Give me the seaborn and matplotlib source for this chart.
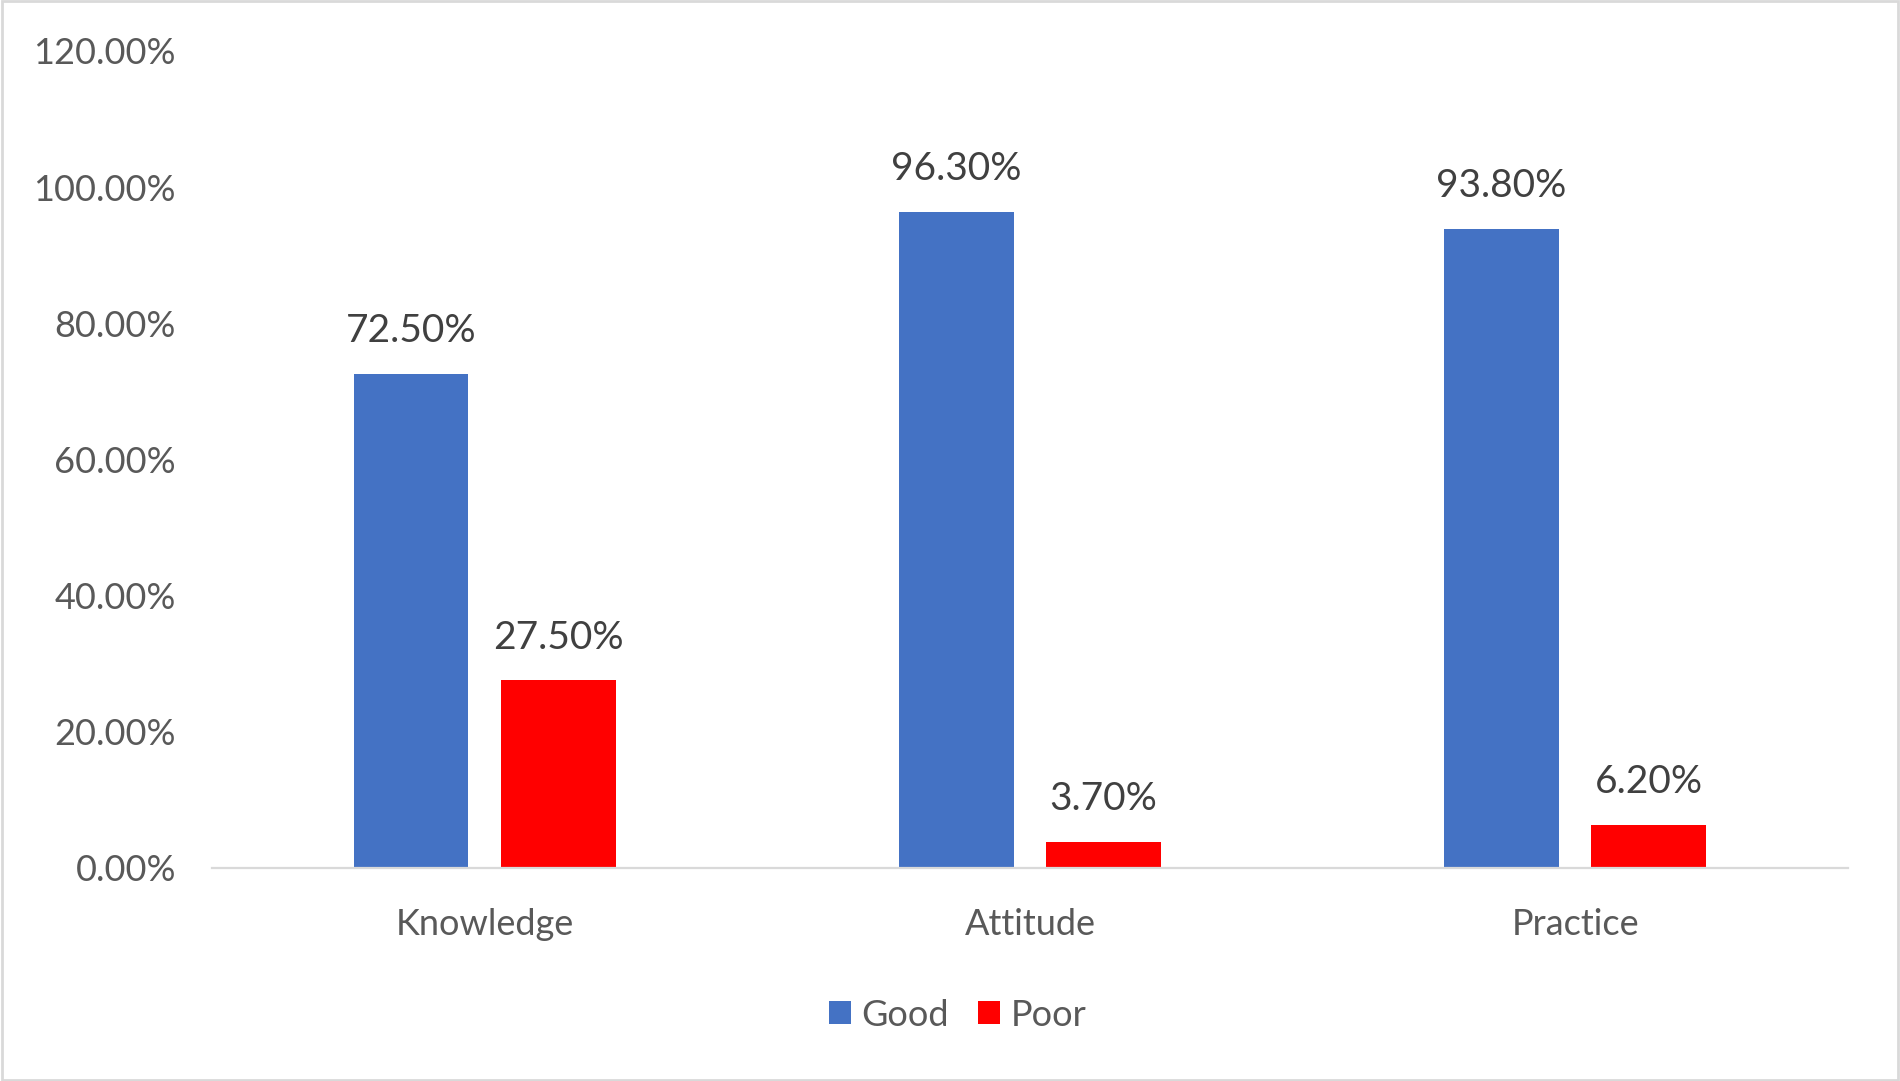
import pandas as pd
import matplotlib
matplotlib.use('Agg')
import matplotlib.pyplot as plt
from matplotlib.patches import Rectangle
import seaborn as sns

# Values (percent)
categories = ['Knowledge', 'Attitude', 'Practice']
good = [72.50, 96.30, 93.80]
poor = [27.50, 3.70, 6.20]
y_ticks = [0, 20, 40, 60, 80, 100, 120]

df = pd.DataFrame({
    'Domain': categories * 2,
    'Level': ['Good'] * 3 + ['Poor'] * 3,
    'Percent': good + poor,
})

sns.set_theme(style='white')
plt.rcParams['font.family'] = ['Lato', 'DejaVu Sans']

fig = plt.figure(figsize=(19, 10.81), dpi=100)
ax = fig.add_axes([0.1116, 0.1974, 0.861, 0.7555])

sns.barplot(data=df, x='Domain', y='Percent', hue='Level',
            palette={'Good': '#4472C4', 'Poor': '#FF0000'},
            width=0.54, gap=0.22, saturation=1, linewidth=0, ax=ax)

# data labels
for cont in ax.containers:
    for bar in cont:
        h = bar.get_height()
        ax.annotate(f'{h:.2f}%', (bar.get_x() + bar.get_width() / 2, h),
                    xytext=(0, 23), textcoords='offset points',
                    ha='center', va='baseline', fontsize=28, color='#404040')

ax.set_xlim(-0.5, 2.5)
ax.set_ylim(0, 120)
ax.set_yticks(y_ticks)
ax.set_yticklabels([f'{t:.2f}%' for t in y_ticks])
ax.set_xlabel('')
ax.set_ylabel('')
ax.tick_params(axis='y', length=0, pad=26, labelsize=26, labelcolor='#595959')
ax.tick_params(axis='x', length=0, pad=29, labelsize=26, labelcolor='#595959')

for s in ['top', 'right', 'left']:
    ax.spines[s].set_visible(False)
ax.spines['bottom'].set_color('#D9D9D9')
ax.spines['bottom'].set_linewidth(1.6)

sns.move_legend(ax, 'center', bbox_to_anchor=(0.504, 0.061),
                bbox_transform=fig.transFigure, ncol=2, frameon=False,
                title=None, fontsize=26, handlelength=0.6, handleheight=0.6,
                handletextpad=0.3, columnspacing=0.8)
for t in ax.get_legend().get_texts():
    t.set_color('#595959')

# outer chart border
fig.patches.append(Rectangle((0.001, 0.001), 0.998, 0.998, transform=fig.transFigure,
                             fill=False, edgecolor='#D9D9D9', linewidth=2))

fig.savefig('out.png', dpi=100, facecolor='white')
